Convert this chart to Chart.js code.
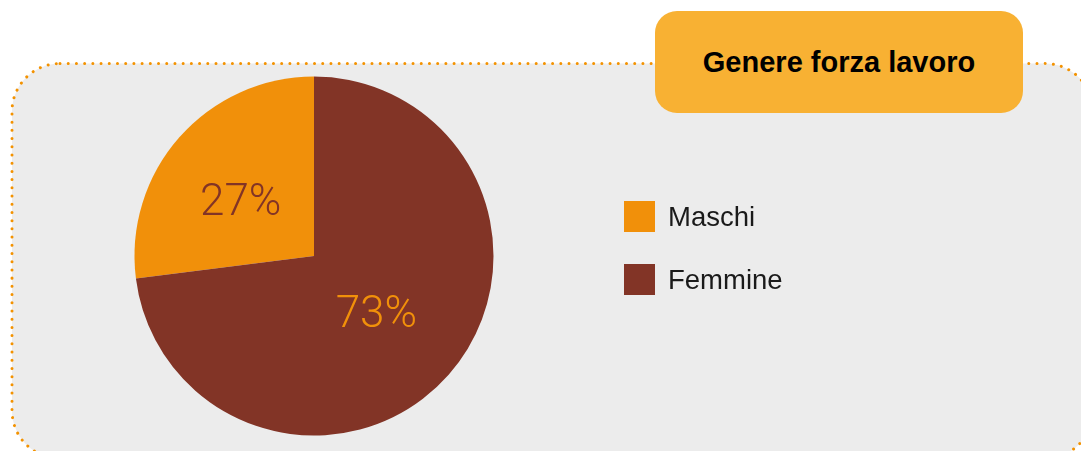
<!DOCTYPE html>
<html>
<head>
<meta charset="utf-8">
<script src="https://cdn.jsdelivr.net/npm/chart.js@4.4.1/dist/chart.umd.min.js"></script>
<style>
  html, body { margin:0; padding:0; width:1081px; height:451px; overflow:hidden; background:#ffffff; }
  #bg { position:absolute; left:0; top:0; }
  #chart { position:absolute; left:0; top:0; }
  #title { position:absolute; left:655px; top:11px; width:368px; height:102px; border-radius:22px;
    background:#F8B133; display:flex; align-items:center; justify-content:center;
    font-family:"Liberation Sans", Arial, sans-serif; font-weight:bold; font-size:29px; color:#000; }
  #legend { position:absolute; left:624px; top:201px; font-family:"Liberation Sans", Arial, sans-serif; }
  .item { position:relative; height:63px; }
  .sw { position:absolute; left:0; top:0; width:31px; height:31px; }
  .lbl { position:absolute; left:44px; top:-2px; line-height:35px; font-size:27.5px; color:#1a1a1a; white-space:nowrap; }
</style>
</head>
<body>
<svg id="bg" width="1081" height="451">
  <rect x="12" y="63.5" width="1081" height="395" rx="48" ry="48" fill="#ECECEC"
        stroke="#F39200" stroke-width="3" stroke-dasharray="0.01 8.2" stroke-linecap="round"/>
</svg>
<canvas id="chart" width="1081" height="451"></canvas>
<div id="title">Genere forza lavoro</div>
<div id="legend"></div>
<script>
// ---- data ----
const categories = ['Maschi', 'Femmine'];
const values = [27, 73];
const sliceColors = ['#F1900A', '#823426'];
const labelColors = ['#823426', '#F1900A'];

const pctPlugin = {
  id: 'pctLabels',
  afterDatasetsDraw(chart, args, opts) {
    const ctx = chart.ctx;
    const meta = chart.getDatasetMeta(0);
    const data = chart.data.datasets[0].data;
    const total = data.reduce((a, b) => a + b, 0);
    ctx.save();
    ctx.font = opts.font;
    ctx.textAlign = 'center';
    ctx.textBaseline = 'middle';
    meta.data.forEach((arc, i) => {
      const p = arc.getProps(['x', 'y', 'startAngle', 'endAngle', 'outerRadius'], true);
      const mid = (p.startAngle + p.endAngle) / 2;
      const r = p.outerRadius * opts.radiusFactor;
      const tx = p.x + Math.cos(mid) * r + opts.shift[i][0];
      const ty = p.y + Math.sin(mid) * r + opts.shift[i][1];
      ctx.fillStyle = opts.colors[i];
      ctx.fillText(Math.round(data[i] / total * 100) + '%', tx, ty);
    });
    ctx.restore();
  }
};

const chart = new Chart(document.getElementById('chart'), {
  type: 'pie',
  data: {
    labels: categories,
    datasets: [{
      data: values,
      backgroundColor: sliceColors,
      borderWidth: 0,
      hoverOffset: 0
    }]
  },
  options: {
    responsive: false,
    animation: false,
    devicePixelRatio: 1,
    rotation: -values[0] / values.reduce((a, b) => a + b, 0) * 360,
    layout: { padding: { left: 134.5, right: 587.5, top: 76.5, bottom: 15.5 } },
    plugins: {
      legend: { display: false },
      tooltip: { enabled: false },
      pctLabels: {
        font: '300 44px Roboto, "Liberation Sans", sans-serif',
        colors: labelColors,
        radiusFactor: 0.5,
        shift: [[-6, 7], [-5, 1]]
      }
    }
  },
  plugins: [pctPlugin]
});

// HTML legend built from chart data
const legendEl = document.getElementById('legend');
chart.data.labels.forEach((lab, i) => {
  const item = document.createElement('div');
  item.className = 'item';
  const sw = document.createElement('div');
  sw.className = 'sw';
  sw.style.background = chart.data.datasets[0].backgroundColor[i];
  const t = document.createElement('div');
  t.className = 'lbl';
  t.textContent = lab;
  item.appendChild(sw); item.appendChild(t);
  legendEl.appendChild(item);
});
</script>
</body>
</html>
